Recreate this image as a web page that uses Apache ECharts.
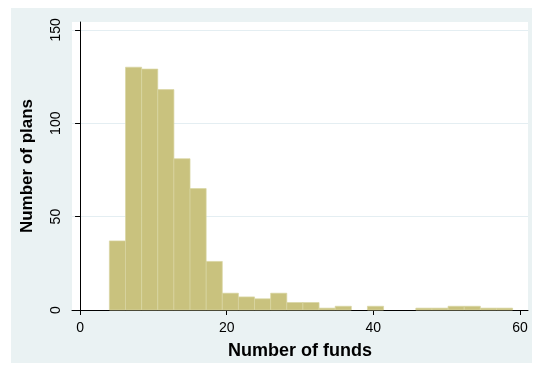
<!DOCTYPE html>
<html>
<head>
<meta charset="utf-8">
<script src="https://cdn.jsdelivr.net/npm/echarts@6/dist/echarts.min.js"></script>
<style>
  html, body { margin: 0; padding: 0; background: #fff; }
  #chart { width: 533px; height: 365px; }
</style>
</head>
<body>
<div id="chart"></div>
<script>
// Histogram bins: lower/upper edges (number of funds) and plan counts per bin
const binEdges = [4, 6.2, 8.4, 10.6, 12.8, 15, 17.2, 19.4, 21.6, 23.8, 26, 28.2, 30.4,
                  32.6, 34.8, 37, 39.2, 41.4, 43.6, 45.8, 48, 50.2, 52.4, 54.6, 56.8, 59];
const planCounts = [37, 130, 129, 118, 81, 65, 26, 9, 7, 6, 9, 4, 4,
                    1, 2, 0, 2, 0, 0, 1, 1, 2, 2, 1, 1];
const xTickValues = [0, 20, 40, 60];
const yTickValues = [0, 50, 100, 150];

const bins = planCounts.map((n, i) => [binEdges[i], binEdges[i + 1], n]);

const FONT = '"Liberation Sans", Arial, Helvetica, sans-serif';
const BAR_FILL = '#c9c27e';
const BAR_EDGE = '#d9d5a2';

const chart = echarts.init(document.getElementById('chart'), null, { renderer: 'canvas' });

chart.setOption({
  animation: false,
  backgroundColor: '#ffffff',
  graphic: [{
    type: 'rect',
    silent: true,
    z: -100,
    shape: { x: 11, y: 8, width: 521, height: 355 },
    style: { fill: '#eaf2f3' }
  }],
  grid: {
    left: 72, right: 5, top: 22, bottom: 53,
    show: true, backgroundColor: '#ffffff', borderWidth: 0
  },
  xAxis: {
    type: 'value',
    min: -1.1, max: 61.1,
    name: 'Number of funds',
    nameLocation: 'middle',
    nameGap: 32,
    nameTextStyle: { fontFamily: FONT, fontSize: 18, fontWeight: 'bold', color: '#000' },
    axisLine: { show: true, onZero: false, lineStyle: { color: '#000', width: 1 } },
    axisTick: { show: true, customValues: xTickValues, length: 5, lineStyle: { color: '#000', width: 1 } },
    axisLabel: { customValues: xTickValues, fontFamily: FONT, fontSize: 14, color: '#000', margin: 11 },
    splitLine: { show: false }
  },
  yAxis: {
    type: 'value',
    min: 0, max: 154.2, interval: 50,
    name: 'Number of plans',
    nameLocation: 'middle',
    nameGap: 36,
    nameTextStyle: { fontFamily: FONT, fontSize: 17, fontWeight: 'bold', color: '#000' },
    axisLine: { show: true, lineStyle: { color: '#000', width: 1 } },
    axisTick: { show: true, customValues: yTickValues, length: 5, lineStyle: { color: '#000', width: 1 } },
    axisLabel: { customValues: yTickValues, rotate: 90, fontFamily: FONT, fontSize: 14, color: '#000', margin: 9 },
    splitLine: { show: true, lineStyle: { color: '#e4eef2', width: 1 } }
  },
  series: [{
    type: 'custom',
    encode: { x: [0, 1], y: 2 },
    data: bins,
    renderItem: function (params, api) {
      const lo = api.value(0), hi = api.value(1), n = api.value(2);
      if (!n) return null;
      const topLeft = api.coord([lo, n]);
      const bottomRight = api.coord([hi, 0]);
      return {
        type: 'rect',
        shape: {
          x: topLeft[0],
          y: topLeft[1],
          width: bottomRight[0] - topLeft[0],
          height: bottomRight[1] - topLeft[1]
        },
        style: { fill: BAR_FILL, stroke: BAR_EDGE, lineWidth: 0.7 }
      };
    }
  }]
});
</script>
</body>
</html>
